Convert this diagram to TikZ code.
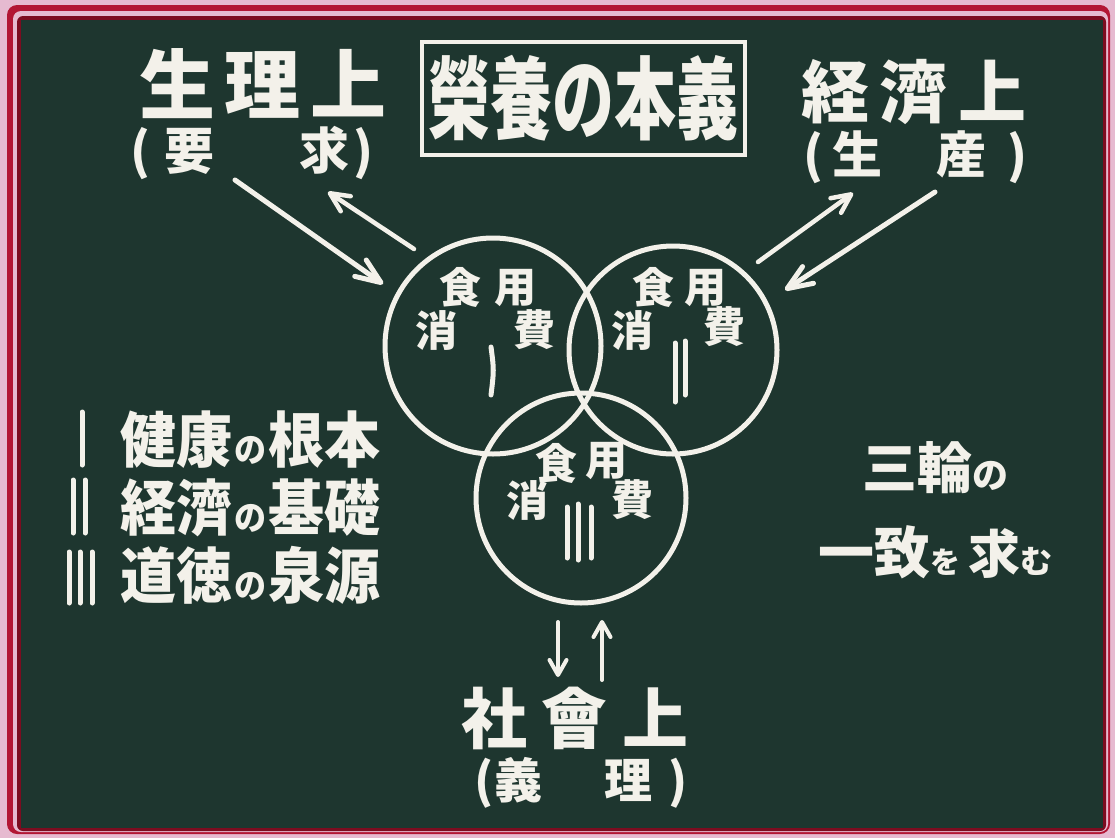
\documentclass[tikz,border=0pt]{standalone}
\usepackage{fontspec}
\usepackage{graphicx}
\newfontfamily\cjk{Noto Sans CJK JP}
\usetikzlibrary{arrows.meta}
\definecolor{board}{RGB}{30,54,47}
\definecolor{chalk}{RGB}{243,241,234}
\definecolor{pinkbg}{RGB}{230,186,208}
\definecolor{redband}{RGB}{178,22,52}
\definecolor{darkred}{RGB}{125,12,32}
\newcommand\myfs[1]{\fontsize{#1}{#1}\selectfont}
\begin{document}
\begin{tikzpicture}[x=1pt,y=-1pt,
  lbl/.style={text=chalk,inner sep=0pt,font=\cjk\bfseries},
  ctext/.style={lbl,font=\cjk\bfseries\myfs{42pt}},
  ring/.style={circle,draw=chalk,line width=5pt,inner sep=0pt},
  bar/.style={draw=chalk,line width=5pt,line cap=round},
  chalkarrow/.style={draw=chalk,line cap=round,line join=round},
  bighead/.style={-{Straight Barb[length=25pt,width=20pt,round]}},
  midhead/.style={-{Straight Barb[length=19pt,width=18pt,round]}},
  smallhead/.style={-{Straight Barb[length=15pt,width=17pt,round]}}]
% frame
\useasboundingbox (0,0) rectangle (1115,838);
\fill[pinkbg] (0,0) rectangle (1115,838);
\fill[redband,rounded corners=10pt] (7,5) rectangle (1110,834);
\fill[pinkbg,rounded corners=8pt] (13,11) rectangle (1108,832);
\fill[darkred,rounded corners=6pt] (17,16) rectangle (1106,831);
\fill[board] (21,20) rectangle (1103,828);

% title
\node[lbl,draw=chalk,line width=3.5pt,minimum width=323pt,minimum height=113pt] (title) at (583.5,98.5)
  {\myfs{62pt}\scalebox{1}[1.45]{榮養の本義}};

% top labels
\node[lbl] (seiri) at (263,84) {\myfs{76pt}生\hspace{10pt}理\hspace{10pt}上};
\node[lbl] (youkyu) at (252,153) {\myfs{50pt}(\hspace{14pt}要\hspace{85pt}求\hspace{4pt})};
\node[lbl] (keizai) at (914,92) {\myfs{68pt}経\hspace{11pt}濟\hspace{11pt}上};
\node[lbl] (seisan) at (915,157) {\myfs{50pt}(\hspace{9pt}生\hspace{54pt}産\hspace{21pt})};

% bottom labels
\node[lbl] (shakai) at (575,718) {\myfs{66pt}社\hspace{15pt}會\hspace{15pt}上};
\node[lbl] (giri) at (581,783) {\myfs{48pt}(\hspace{1pt}義\hspace{62pt}理\hspace{16pt})};

% circles
\node[ring,minimum size=216pt] (c1) at (493,346) {};
\node[ring,minimum size=208pt] (c2) at (673,350) {};
\node[ring,minimum size=210pt] (c3) at (581,498) {};

% circle texts
\node[ctext] (c1a) at (460,287) {食};
\node[ctext] (c1b) at (515,288) {用};
\node[ctext] (c1c) at (436,330) {消};
\node[ctext] (c1d) at (534,330) {費};
\node[ctext] (c2a) at (653,287) {食};
\node[ctext] (c2b) at (705,288) {用};
\node[ctext] (c2c) at (632,330) {消};
\node[ctext] (c2d) at (724,327) {費};
\node[ctext] (c3a) at (556,463) {食};
\node[ctext] (c3b) at (606,461) {用};
\node[ctext] (c3c) at (527,500) {消};
\node[ctext] (c3d) at (632,500) {費};

% numeral bars in circles
\draw[bar] (491,347) .. controls (494,370) .. (491,395);
\draw[bar] (675,343) -- (675,402);
\draw[bar] (685,341) -- (685,395);
\draw[bar] (567,507) -- (567,558);
\draw[bar] (578,504) -- (578,560);
\draw[bar] (591,507) -- (591,558);

% legend
\draw[bar] (82,412) -- (82,465);
\draw[bar] (73,480) -- (73,533);
\draw[bar] (85,480) -- (85,533);
\draw[bar] (69,552) -- (69,603);
\draw[bar] (80,552) -- (80,603);
\draw[bar] (92,552) -- (92,603);
\node[lbl] (leg1) at (250,440) {\scalebox{1}[1.08]{\myfs{56pt}健康\hspace{2pt}{\myfs{32pt}の}\hspace{2pt}根本}};
\node[lbl] (leg2) at (250,508) {\scalebox{1}[1.08]{\myfs{56pt}経濟\hspace{2pt}{\myfs{32pt}の}\hspace{2pt}基礎}};
\node[lbl] (leg3) at (250,575) {\scalebox{1}[1.08]{\myfs{56pt}道徳\hspace{2pt}{\myfs{32pt}の}\hspace{2pt}泉源}};

% right text
\node[lbl] (sanrin) at (935,468) {\myfs{55pt}三輪{\myfs{36pt}の}};
\node[lbl] (itchi) at (935,552) {\myfs{56pt}一致{\myfs{30pt}を}\hspace{8pt}{\myfs{52pt}求}{\myfs{32pt}む}};

% arrow end points
\coordinate (a1s) at (235,180);
\coordinate (a1e) at (383,284);
\coordinate (a2s) at (414,249);
\coordinate (a2e) at (328,192);
\coordinate (a3s) at (758,262);
\coordinate (a3e) at (853,193);
\coordinate (a4s) at (935,192);
\coordinate (a4e) at (785,290);
\coordinate (a5s) at (558,622);
\coordinate (a5e) at (558,677);
\coordinate (a6s) at (602,680);
\coordinate (a6e) at (602,620);

\draw[chalkarrow,bighead,line width=5pt] (a1s) -- (a1e);
\draw[chalkarrow,midhead,line width=4.5pt] (a2s) -- (a2e);
\draw[chalkarrow,midhead,line width=4.5pt] (a3s) -- (a3e);
\draw[chalkarrow,bighead,line width=5pt] (a4s) -- (a4e);
\draw[chalkarrow,smallhead,line width=4pt] (a5s) -- (a5e);
\draw[chalkarrow,smallhead,line width=4pt] (a6s) -- (a6e);
\end{tikzpicture}
\end{document}
